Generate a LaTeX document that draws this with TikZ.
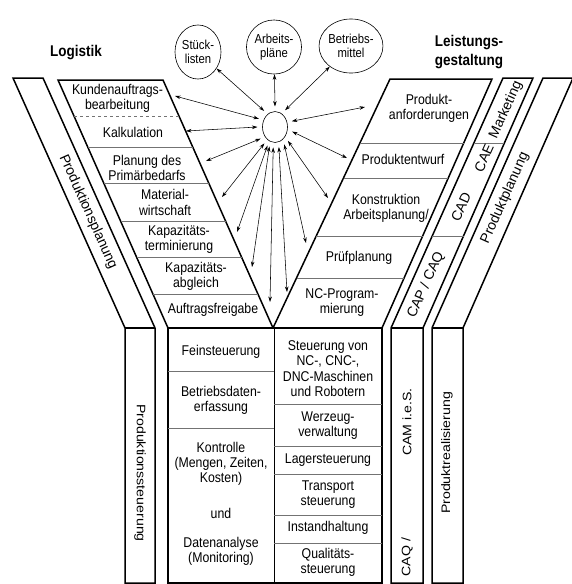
\documentclass[tikz,border=0pt]{standalone}
\usepackage{fontspec}
\setmainfont{Liberation Sans}
\usetikzlibrary{arrows.meta,shapes.geometric}
\begin{document}
\begin{tikzpicture}[x=1pt,y=-1pt,
  outline/.style={line width=1.5pt, line join=miter},
  fold/.style={line width=1.5pt},
  divider/.style={line width=0.5pt, draw=black!55},
  link/.style={line width=0.55pt, {Stealth[length=5.5pt,width=3.6pt]}-{Stealth[length=5.5pt,width=3.6pt]}},
  lbl/.style={font=\fontsize{12.3}{13.3}\selectfont, align=center, inner sep=0pt, yscale=1.15},
  slantlbl/.style={font=\fontsize{14}{15}\selectfont, inner sep=0pt},
  head/.style={font=\bfseries\fontsize{13.5}{16.5}\selectfont, align=center, inner sep=0pt, yscale=1.15},
  store/.style={draw, ellipse, line width=0.6pt, inner sep=0pt, minimum width=46pt, minimum height=47pt,
                align=center, yscale=1.15, font=\fontsize{11.3}{12.3}\selectfont},
  hubstyle/.style={draw, ellipse, line width=0.6pt, inner sep=0pt, minimum width=25pt, minimum height=31pt, outer sep=5pt}
]
\useasboundingbox (0,0) rectangle (572,584);

% ---------- Logistik side ----------
\draw[outline] (13,78) -- (43,78) -- (155,328) -- (155,583) -- (125,583) -- (125,328) -- cycle;
\draw[fold] (125,328) -- (155,328);
\draw[outline] (58,80) -- (163,80) -- (273,328) -- (168,328) -- cycle;
\draw[divider, dashed] (74,116) -- (179,116);
\draw[divider] (87.8,147) -- (192.7,147);
\draw[divider] (103.9,183) -- (208.7,183);
\draw[divider] (120.8,221) -- (225.5,221);
\draw[divider] (136.8,257) -- (241.5,257);
\draw[divider] (153.3,294) -- (257.9,294);

% ---------- Leistungsgestaltung side ----------
\draw[outline] (390,79) -- (492,79) -- (382,328) -- (273,328) -- cycle;
\draw[divider] (359.9,143) -- (463.7,143);
\draw[divider] (343.5,178) -- (448.3,178);
\draw[divider] (316.2,236) -- (422.6,236);
\draw[divider] (296.5,278) -- (404.1,278);
\draw[outline] (503,78) -- (533,78) -- (423,328) -- (423,583) -- (391,583) -- (391,328) -- cycle;
\draw[fold] (391,328) -- (423,328);
\draw[divider] (473.9,143) -- (504.4,143);
\draw[divider] (432.2,236) -- (463.5,236);
\draw[outline] (543,78) -- (573,78) -- (463,328) -- (463,583) -- (432,583) -- (432,328) -- cycle;
\draw[fold] (432,328) -- (463,328);

% ---------- production block ----------
\draw[outline] (168,328) rectangle (382,583);
\draw[line width=1pt] (274,328) -- (274,583);
\draw[divider] (168,371) -- (274,371);
\draw[divider] (168,428) -- (274,428);
\draw[divider] (274,404) -- (382,404);
\draw[divider] (274,446) -- (382,446);
\draw[divider] (274,474) -- (382,474);
\draw[divider] (274,515) -- (382,515);
\draw[divider] (274,543) -- (382,543);

% ---------- headings ----------
\node[head] (hL) at (76,53) {Logistik};
\node[head] (hR) at (469,52) {Leistungs-\\gestaltung};

% ---------- data stores and hub ----------
\node[store] (s1) at (198,52) {Stück-\\listen};
\node[store] (s2) at (274,47) {Arbeits-\\pläne};
\node[store] (s3) at (351,46) {Betriebs-\\mittel};
\node[hubstyle] (hub) at (275,127) {};

% ---------- cell labels, Logistik ----------
\node[lbl] (l1) at (117.5,98.5) {Kundenauftrags-\\bearbeitung};
\node[lbl] (l2) at (133,132) {Kalkulation};
\node[lbl] (l3) at (147,168) {Planung des\\Primärbedarfs};
\node[lbl] (l4) at (165,202.5) {Material-\\wirtschaft};
\node[lbl] (l5) at (179,239) {Kapazitäts-\\terminierung};
\node[lbl] (l6) at (196,276) {Kapazitäts-\\abgleich};
\node[lbl] (l7) at (213,310) {Auftragsfreigabe};

% ---------- cell labels, Leistungsgestaltung ----------
\node[lbl] (r1) at (429,108.5) {Produkt-\\anforderungen};
\node[lbl] (r2) at (403,159) {Produktentwurf};
\node[lbl] (r3) at (386,208) {Konstruktion\\Arbeitsplanung/};
\node[lbl] (r4) at (359,258) {Prüfplanung};
\node[lbl] (r5) at (342,302.5) {NC-Program-\\mierung};

% ---------- cell labels, production block ----------
\node[lbl] (p1) at (221,352) {Feinsteuerung};
\node[lbl] (p2) at (221,400.5) {Betriebsdaten-\\erfassung};
\node[lbl] (p3) at (221,464) {Kontrolle\\(Mengen, Zeiten,\\Kosten)};
\node[lbl] (p4) at (221,513) {und};
\node[lbl] (p5) at (221,551.5) {Datenanalyse\\(Monitoring)};
\node[lbl] (q1) at (328,368.5) {Steuerung von\\NC-, CNC-,\\DNC-Maschinen\\und Robotern};
\node[lbl] (q2) at (328,425.5) {Werzeug-\\verwaltung};
\node[lbl] (q3) at (328,460) {Lagersteuerung};
\node[lbl] (q4) at (328,494.5) {Transport\\steuerung};
\node[lbl] (q5) at (328,528) {Instandhaltung};
\node[lbl] (q6) at (328,562.5) {Qualitäts-\\steuerung};

% ---------- strip labels ----------
\node[slantlbl, rotate=-65.8] (v1) at (88,212) {Produktionsplanung};
\node[slantlbl, rotate=65.8] (v2) at (506,110) {Marketing};
\node[slantlbl, rotate=65.8] (v3) at (484,158) {CAE};
\node[slantlbl, rotate=65.8] (v4) at (461,207) {CAD};
\node[slantlbl, rotate=65.8] (v5) at (426,285) {CAP / CAQ};
\node[slantlbl, rotate=65.8] (v6) at (505,198) {Produktplanung};
\node[lbl, rotate=-90] (v7) at (140,473) {Produktionssteuerung};
\node[lbl, rotate=90] (v8) at (407,422) {CAM i.e.S.};
\node[lbl, rotate=90] (v9) at (407,557) {CAQ /};
\node[lbl, rotate=90] (v10) at (447,453) {Produktrealisierung};

% ---------- arrow end points on the cells ----------
\coordinate (t1) at (175,96);
\coordinate (t2) at (186,131);
\coordinate (t3) at (206,161);
\coordinate (t4) at (222,197);
\coordinate (t5) at (237,232);
\coordinate (t6) at (252,267);
\coordinate (t7) at (270,302);
\coordinate (t8) at (287,292);
\coordinate (t9) at (306,243);
\coordinate (t10) at (328,198);
\coordinate (t11) at (347,158);
\coordinate (t12) at (365,107);

% ---------- data links ----------
\draw[link] (hub.124) -- (s1);
\draw[link] (hub.90) -- (s2);
\draw[link] (hub.59) -- (s3);
\draw[link] (hub.153) -- (t1);
\draw[link] (hub.180) -- (t2);
\draw[link] (hub.219) -- (t3);
\draw[link] (hub.237) -- (t4);
\draw[link] (hub.248) -- (t5);
\draw[link] (hub.254) -- (t6);
\draw[link] (hub.265) -- (t7);
\draw[link] (hub.281) -- (t8);
\draw[link] (hub.298) -- (t9);
\draw[link] (hub.313) -- (t10);
\draw[link] (hub.345) -- (t11);
\draw[link] (hub.19) -- (t12);
\end{tikzpicture}
\end{document}
